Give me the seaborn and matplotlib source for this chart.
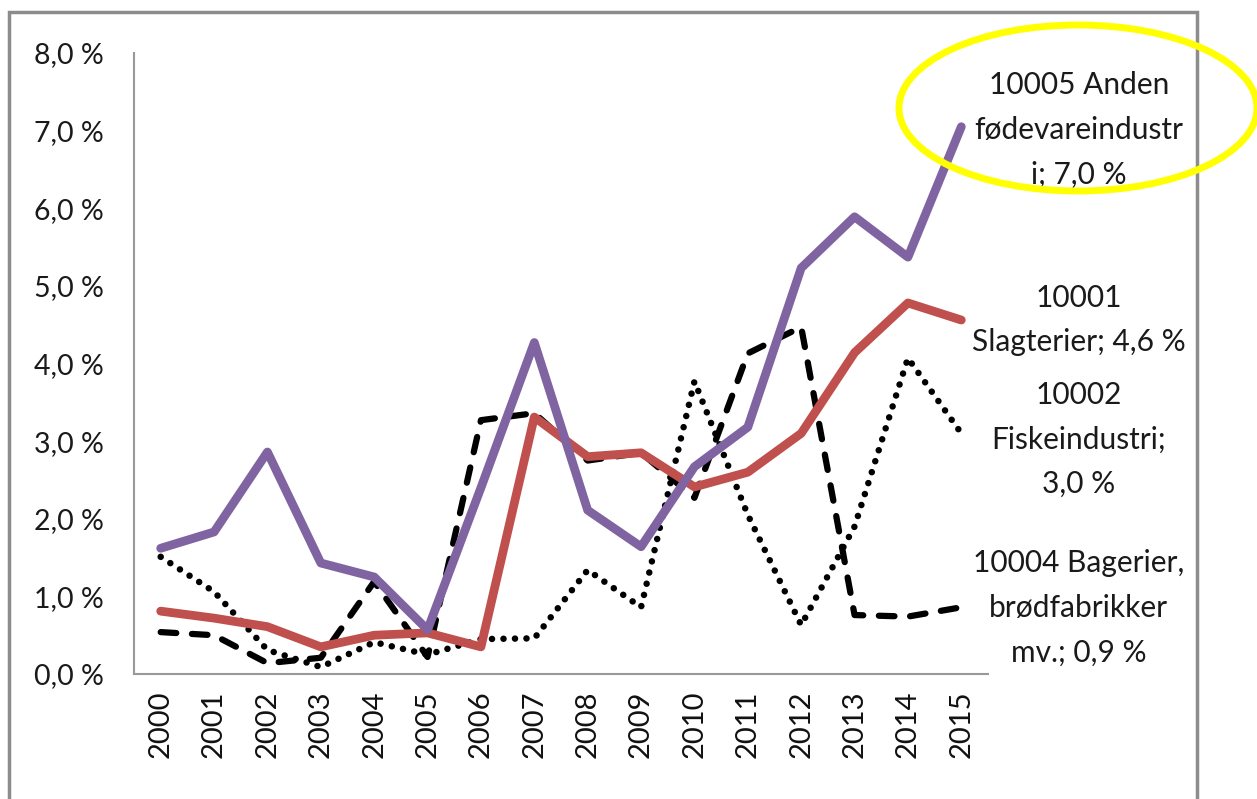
import numpy as np
import pandas as pd
import seaborn as sns
import matplotlib.pyplot as plt
from matplotlib.patches import Ellipse, Rectangle

# Data (percent)
years = [str(y) for y in range(2000, 2016)]
anden_fodevare = [1.62, 1.83, 2.86, 1.43, 1.25, 0.57, 2.40, 4.27, 2.11, 1.64, 2.67, 3.18, 5.23, 5.89, 5.37, 7.05]
slagterier = [0.81, 0.72, 0.61, 0.35, 0.50, 0.53, 0.35, 3.31, 2.80, 2.85, 2.41, 2.60, 3.10, 4.14, 4.78, 4.56]
fiskeindustri = [1.51, 1.06, 0.31, 0.09, 0.41, 0.25, 0.45, 0.46, 1.34, 0.86, 3.77, 2.05, 0.63, 1.90, 4.07, 3.10]
bagerier = [0.54, 0.50, 0.14, 0.21, 1.19, 0.22, 3.27, 3.36, 2.75, 2.85, 2.27, 4.13, 4.47, 0.76, 0.74, 0.86]

end_labels = {
    "anden": "10005 Anden\nfødevareindustr\ni; 7,0 %",
    "slagterier": "10001\nSlagterier; 4,6 %",
    "fisk": "10002\nFiskeindustri;\n3,0 %",
    "bagerier": "10004 Bagerier,\nbrødfabrikker\nmv.; 0,9 %",
}
yticks = [0, 1, 2, 3, 4, 5, 6, 7, 8]
ytick_labels = ["0,0 %", "1,0 %", "2,0 %", "3,0 %", "4,0 %", "5,0 %", "6,0 %", "7,0 %", "8,0 %"]

sns.set_style("white")
plt.rcParams['font.family'] = ['Lato', 'DejaVu Sans']

fig = plt.figure(figsize=(12.57, 7.99), dpi=100)
ax = fig.add_axes([0.1066, 0.1564, 0.6794, 0.7773])

x = np.arange(len(years))
df = pd.DataFrame({"x": x, "anden": anden_fodevare, "slagterier": slagterier,
                   "fisk": fiskeindustri, "bagerier": bagerier})

# dotted and dashed black series first, coloured on top
sns.lineplot(data=df, x="x", y="fisk", ax=ax, color="black", linewidth=4.7)
ax.lines[-1].set_linestyle((0, (0.01, 1.75)))
ax.lines[-1].set_dash_capstyle("round")
sns.lineplot(data=df, x="x", y="bagerier", ax=ax, color="black", linewidth=4.5)
ax.lines[-1].set_linestyle((0, (2.5, 2.5)))
ax.lines[-1].set_dash_capstyle("round")
sns.lineplot(data=df, x="x", y="slagterier", ax=ax, color="#C0504D", linewidth=6.3)
ax.lines[-1].set_solid_capstyle("round")
sns.lineplot(data=df, x="x", y="anden", ax=ax, color="#8064A2", linewidth=6.3)
ax.lines[-1].set_solid_capstyle("round")

ax.set_xlim(-0.5, 15.5)
ax.set_ylim(0, 8)
ax.set_xlabel("")
ax.set_ylabel("")

ax.set_yticks(yticks)
ax.set_yticklabels(ytick_labels, fontsize=20.5, color="#1a1a1a")
ax.set_xticks(x)
ax.set_xticklabels(years, rotation=90, fontsize=21, color="#111111")
ax.set_xticks(np.arange(-0.5, 16, 1), minor=True)
ax.tick_params(axis="x", which="major", length=0, pad=12)
ax.tick_params(axis="x", which="minor", length=8, width=1.3, color="#999999", direction="out")
ax.tick_params(axis="y", which="major", length=8, width=1.3, color="#999999", direction="out", pad=14)

for side in ["top", "right"]:
    ax.spines[side].set_visible(False)
for side in ["left", "bottom"]:
    ax.spines[side].set_color("#999999")
    ax.spines[side].set_linewidth(1.5)

# end-of-line labels
label_pos = [("anden", 7.01), ("slagterier", 4.56), ("fisk", 3.02), ("bagerier", 0.85)]
for key, yv in label_pos:
    ax.text(17.2, yv, end_labels[key], ha="center", va="center", fontsize=21.5,
            color="#1a1a1a", linespacing=1.72, clip_on=False)

# outer chart frame
fig.patches.append(Rectangle((9 / 1257, -0.05), (1197 - 9) / 1257, (799 - 12) / 799 + 0.05,
                             transform=fig.transFigure, fill=False,
                             edgecolor="#8c8c8c", linewidth=2.5))

# yellow highlight ellipse
fig.patches.append(Ellipse((1078 / 1257, 1 - 108 / 799), 358 / 1257, 166 / 799,
                           transform=fig.transFigure, fill=False,
                           edgecolor="#FFFF00", linewidth=5, zorder=10))

fig.savefig("out.png", dpi=100)
